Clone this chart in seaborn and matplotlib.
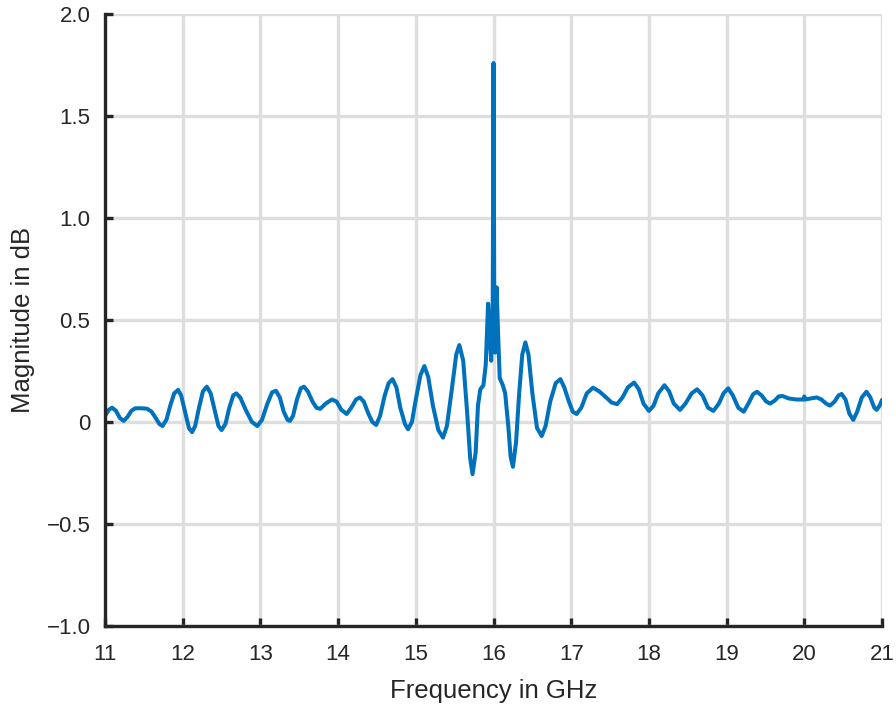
import numpy as np
import pandas as pd
import matplotlib
matplotlib.use('Agg')
import matplotlib.pyplot as plt
import seaborn as sns

# Values (frequency in GHz, magnitude in dB)
freq = [
    11.00, 11.05, 11.09, 11.14, 11.19, 11.24, 11.29, 11.34, 11.39, 11.47,
    11.54, 11.60, 11.66, 11.70, 11.74, 11.79, 11.84, 11.89, 11.94, 11.98,
    12.03, 12.08, 12.12, 12.16, 12.21, 12.26, 12.31, 12.36, 12.41, 12.46,
    12.50, 12.55, 12.60, 12.65, 12.69, 12.74, 12.81, 12.89, 12.96, 13.02,
    13.09, 13.15, 13.20, 13.25, 13.30, 13.35, 13.38, 13.42, 13.47, 13.52,
    13.56, 13.61, 13.67, 13.72, 13.77, 13.84, 13.92, 13.98, 14.04, 14.11,
    14.17, 14.23, 14.28, 14.33, 14.39, 14.44, 14.49, 14.54, 14.60, 14.65,
    14.70, 14.75, 14.80, 14.86, 14.90, 14.95, 15.00, 15.06, 15.11, 15.16,
    15.22, 15.29, 15.35, 15.40, 15.46, 15.52, 15.56, 15.61, 15.66, 15.70,
    15.73, 15.77, 15.80, 15.83, 15.87, 15.90, 15.93, 15.95, 15.97, 15.99,
    16.00, 16.01, 16.02, 16.04, 16.06, 16.08, 16.12, 16.15, 16.19, 16.22,
    16.25, 16.29, 16.33, 16.37, 16.41, 16.45, 16.50, 16.56, 16.62, 16.67,
    16.73, 16.80, 16.86, 16.91, 16.97, 17.02, 17.07, 17.13, 17.20, 17.28,
    17.36, 17.45, 17.52, 17.59, 17.66, 17.73, 17.81, 17.87, 17.93, 18.00,
    18.06, 18.12, 18.20, 18.26, 18.32, 18.40, 18.47, 18.55, 18.62, 18.69,
    18.76, 18.83, 18.90, 18.96, 19.02, 19.08, 19.15, 19.22, 19.28, 19.34,
    19.39, 19.45, 19.51, 19.56, 19.62, 19.67, 19.72, 19.80, 19.90, 19.99,
    20.00, 20.01, 20.08, 20.16, 20.22, 20.28, 20.33, 20.39, 20.44, 20.48,
    20.53, 20.58, 20.63, 20.68, 20.74, 20.80, 20.85, 20.90, 20.93, 20.97,
    21.00,
]
magnitude = [
    0.030, 0.060, 0.070, 0.055, 0.020, 0.005, 0.025, 0.055, 0.067, 0.067,
    0.065, 0.050, 0.015, -0.010, -0.020, 0.010, 0.080, 0.140, 0.157, 0.130,
    0.050, -0.030, -0.050, -0.020, 0.070, 0.150, 0.173, 0.140, 0.060, -0.020,
    -0.040, -0.010, 0.070, 0.130, 0.140, 0.120, 0.060, 0.000, -0.020, 0.010,
    0.090, 0.145, 0.153, 0.120, 0.050, 0.010, 0.005, 0.030, 0.110, 0.165,
    0.173, 0.150, 0.100, 0.070, 0.064, 0.090, 0.110, 0.100, 0.060, 0.039,
    0.070, 0.110, 0.120, 0.100, 0.040, 0.000, -0.015, 0.030, 0.130, 0.190,
    0.210, 0.170, 0.070, -0.010, -0.036, 0.000, 0.110, 0.230, 0.274, 0.220,
    0.080, -0.040, -0.077, -0.020, 0.150, 0.330, 0.377, 0.300, 0.050, -0.180,
    -0.256, -0.150, 0.080, 0.160, 0.180, 0.280, 0.580, 0.420, 0.300, 0.600,
    1.760, 0.500, 0.340, 0.660, 0.420, 0.215, 0.180, 0.140, -0.020, -0.170,
    -0.220, -0.100, 0.140, 0.330, 0.390, 0.330, 0.140, -0.030, -0.069, -0.020,
    0.100, 0.190, 0.210, 0.170, 0.100, 0.050, 0.039, 0.070, 0.140, 0.168,
    0.150, 0.120, 0.095, 0.087, 0.120, 0.170, 0.193, 0.160, 0.090, 0.054,
    0.080, 0.140, 0.180, 0.150, 0.090, 0.059, 0.090, 0.140, 0.160, 0.130,
    0.070, 0.054, 0.090, 0.140, 0.165, 0.130, 0.070, 0.050, 0.090, 0.135,
    0.148, 0.130, 0.100, 0.090, 0.105, 0.125, 0.127, 0.115, 0.110, 0.110,
    0.125, 0.110, 0.115, 0.120, 0.110, 0.090, 0.080, 0.100, 0.130, 0.137,
    0.110, 0.040, 0.010, 0.050, 0.120, 0.148, 0.120, 0.070, 0.059, 0.080,
    0.108,
]
xticks = list(range(11, 22))
yticks = [-1.0, -0.5, 0.0, 0.5, 1.0, 1.5, 2.0]
ytick_labels = ['\u22121.0', '\u22120.5', '0', '0.5', '1.0', '1.5', '2.0']

df = pd.DataFrame({'freq': freq, 'mag': magnitude})

sns.set_theme(style='whitegrid')
plt.rcParams['font.family'] = ['Liberation Sans', 'DejaVu Sans']

fig = plt.figure(figsize=(8.96, 7.04), dpi=100)
ax = fig.add_axes([0.1172, 0.111, 0.8672, 0.869])

sns.lineplot(data=df, x='freq', y='mag', ax=ax, color='#0072BD',
             linewidth=2.9, sort=False, estimator=None)

ax.set_xlim(11, 21)
ax.set_ylim(-1, 2)
ax.set_xticks(xticks)
ax.set_xticklabels([str(t) for t in xticks])
ax.set_yticks(yticks)
ax.set_yticklabels(ytick_labels)
ax.set_xlabel('Frequency in GHz', fontsize=18.5, color='#262626', labelpad=10)
ax.set_ylabel('Magnitude in dB', fontsize=18.5, color='#262626', labelpad=8)

ax.grid(True, color='#dedede', linewidth=2.4)
ax.set_axisbelow(True)
for side in ['top', 'right']:
    ax.spines[side].set_visible(False)
for side in ['left', 'bottom']:
    ax.spines[side].set_color('#262626')
    ax.spines[side].set_linewidth(2.4)
ax.tick_params(axis='both', direction='in', length=6, width=2.4,
               color='#262626', labelcolor='#262626', labelsize=16,
               left=True, bottom=True)
ax.tick_params(axis='x', pad=13)
ax.tick_params(axis='y', pad=10.5)

plt.savefig('out.png', dpi=100)
